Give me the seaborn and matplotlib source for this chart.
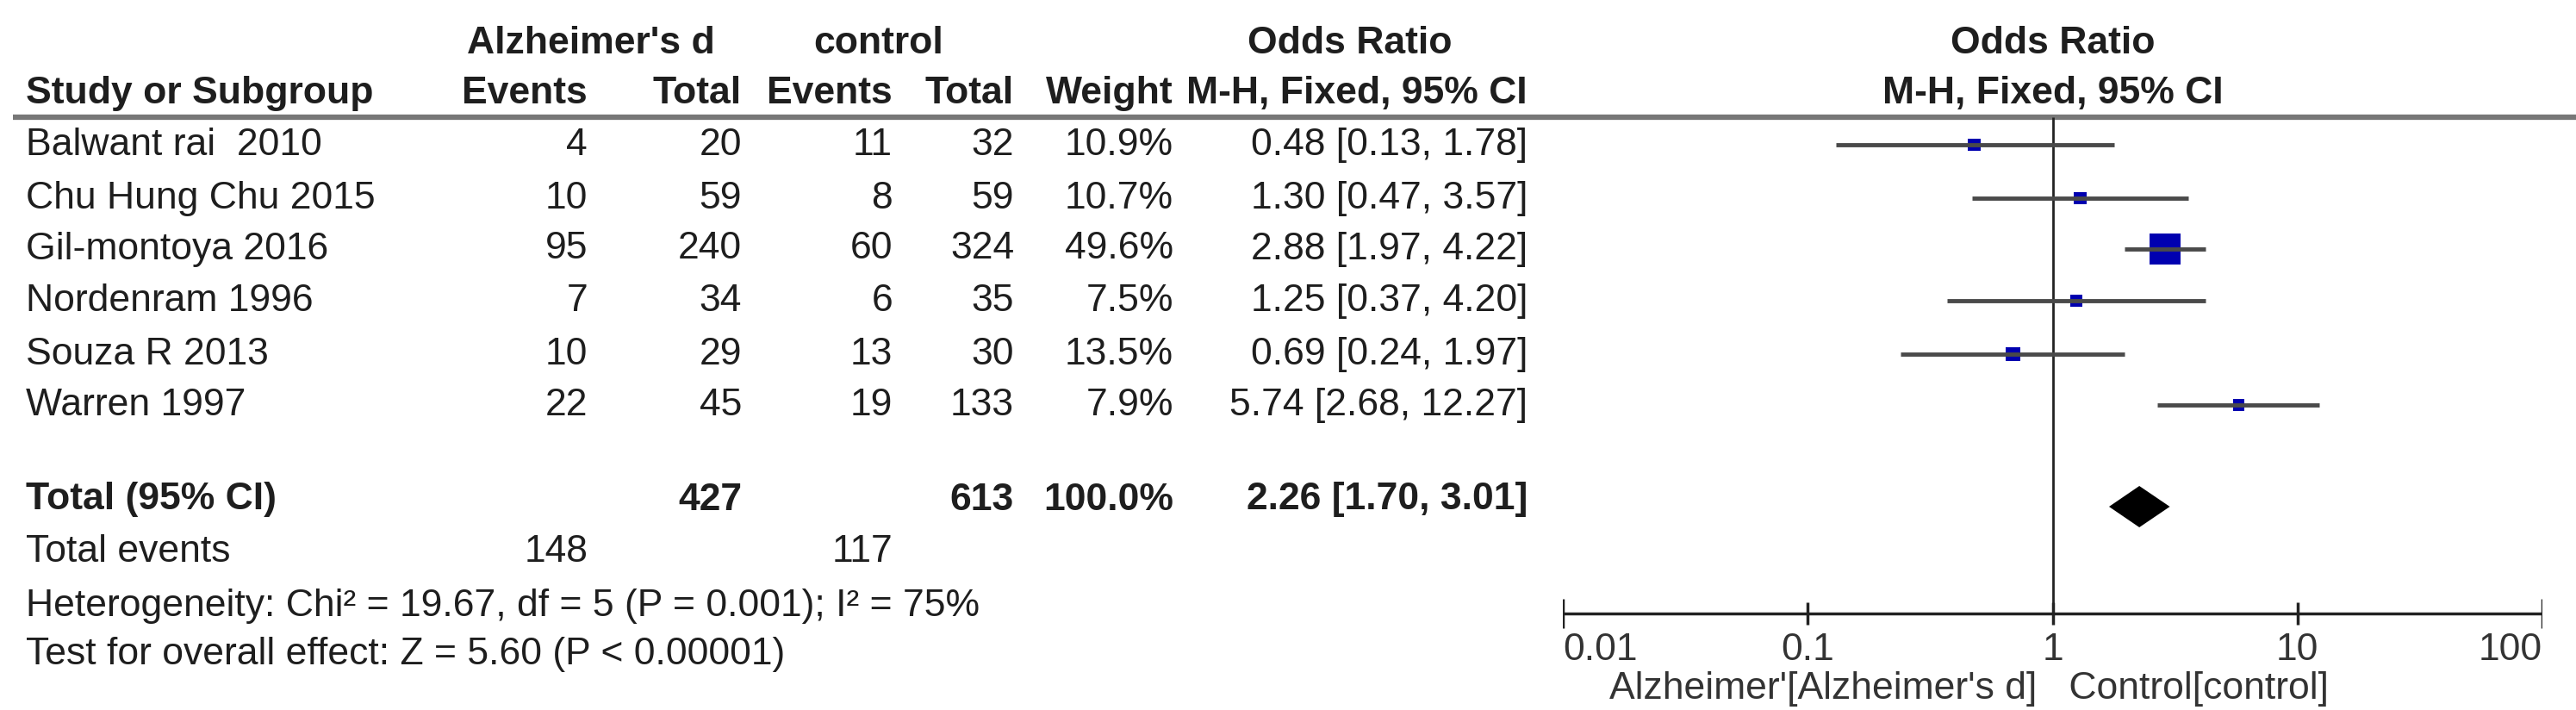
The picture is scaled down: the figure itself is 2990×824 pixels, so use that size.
import matplotlib
matplotlib.use("Agg")
import matplotlib.pyplot as plt
import seaborn as sns
import numpy as np
import pandas as pd

studies = ["Balwant rai  2010", "Chu Hung Chu 2015", "Gil-montoya 2016",
           "Nordenram 1996", "Souza R 2013", "Warren 1997"]
ad_events = [4, 10, 95, 7, 10, 22]
ad_total = [20, 59, 240, 34, 29, 45]
ctl_events = [11, 8, 60, 6, 13, 19]
ctl_total = [32, 59, 324, 35, 30, 133]
weights = [10.9, 10.7, 49.6, 7.5, 13.5, 7.9]
odds = [0.48, 1.30, 2.88, 1.25, 0.69, 5.74]
ci_low = [0.13, 0.47, 1.97, 0.37, 0.24, 2.68]
ci_high = [1.78, 3.57, 4.22, 4.20, 1.97, 12.27]
total_or, total_low, total_high = 2.26, 1.70, 3.01
total_ad, total_ctl = 427, 613
events_ad_sum, events_ctl_sum = 148, 117
tick_vals = [0.01, 0.1, 1, 10, 100]
tick_labels = ["0.01", "0.1", "1", "10", "100"]

sns.set_theme(style="white")
plt.rcParams['font.family'] = ['Liberation Sans', 'DejaVu Sans']

W, H = 2990, 824
fig = plt.figure(figsize=(W / 100, H / 100), dpi=100)
tax = fig.add_axes([0, 0, 1, 1])
tax.set_xlim(0, W); tax.set_ylim(H, 0); tax.axis("off")

FS = 32
TC = "#1e1e1e"
row_y = [168, 230, 289, 349, 411, 470]
total_y, tev_y, het_y, test_y = 580, 640, 703, 760

tax.text(686, 50, "Alzheimer's d", ha="center", va="center", fontsize=FS, fontweight="bold", color=TC)
tax.text(1020, 50, "control", ha="center", va="center", fontsize=FS, fontweight="bold", color=TC)
tax.text(1567, 50, "Odds Ratio", ha="center", va="center", fontsize=FS, fontweight="bold", color=TC)
tax.text(30, 108, "Study or Subgroup", ha="left", va="center", fontsize=FS, fontweight="bold", color=TC)
cols = [682, 861, 1036, 1177, 1362, 1773]
for x, t in zip(cols, ["Events", "Total", "Events", "Total", "Weight", "M-H, Fixed, 95% CI"]):
    tax.text(x, 108, t, ha="right", va="center", fontsize=FS, fontweight="bold", color=TC)
tax.text(2383, 50, "Odds Ratio", ha="center", va="center", fontsize=FS, fontweight="bold", color=TC)
tax.text(2383, 108, "M-H, Fixed, 95% CI", ha="center", va="center", fontsize=FS, fontweight="bold", color=TC)
tax.plot([15, W], [136, 136], color="#777777", lw=4.5, solid_capstyle="butt")

for i, y in enumerate(row_y):
    tax.text(30, y, studies[i], ha="left", va="center", fontsize=FS, color=TC)
    vals = [str(ad_events[i]), str(ad_total[i]), str(ctl_events[i]), str(ctl_total[i]),
            f"{weights[i]:.1f}%", f"{odds[i]:.2f} [{ci_low[i]:.2f}, {ci_high[i]:.2f}]"]
    for x, t in zip(cols, vals):
        tax.text(x, y, t, ha="right", va="center", fontsize=FS, color=TC)

tax.text(30, total_y, "Total (95% CI)", ha="left", va="center", fontsize=FS, fontweight="bold", color=TC)
for x, t in zip([861, 1177, 1362, 1773], [str(total_ad), str(total_ctl), "100.0%",
                                          f"{total_or:.2f} [{total_low:.2f}, {total_high:.2f}]"]):
    tax.text(x, total_y, t, ha="right", va="center", fontsize=FS, fontweight="bold", color=TC)
tax.text(30, tev_y, "Total events", ha="left", va="center", fontsize=FS, color=TC)
tax.text(682, tev_y, str(events_ad_sum), ha="right", va="center", fontsize=FS, color=TC)
tax.text(1036, tev_y, str(events_ctl_sum), ha="right", va="center", fontsize=FS, color=TC)
tax.text(30, het_y, "Heterogeneity: Chi² = 19.67, df = 5 (P = 0.001); I² = 75%", ha="left", va="center", fontsize=FS, color=TC)
tax.text(30, test_y, "Test for overall effect: Z = 5.60 (P < 0.00001)", ha="left", va="center", fontsize=FS, color=TC)

x0, x1 = 1814, 2951
fax = fig.add_axes([x0 / W, 0, (x1 - x0) / W, 1])
fax.set_xscale("log")
fax.set_xlim(0.01, 100)
fax.set_ylim(H, 0)
fax.axis("off")
fax.patch.set_alpha(0)

axis_y = 712
fax.vlines(1, 136, axis_y, color="#222222", lw=2)
fax.hlines(row_y, ci_low, ci_high, color="#4a4a4a", lw=3.5)
df = pd.DataFrame({"OR": odds, "y": row_y, "w": weights})
sides = [(9 + 0.55 * w) * 0.72 for w in weights]
df["s"] = [s ** 2 for s in sides]
sns.scatterplot(data=df, x="OR", y="y", size="s", sizes=(min(df["s"]), max(df["s"])),
                marker="s", color="#0000b0", edgecolor="#0000b0", linewidth=0, legend=False, ax=fax)
fax.fill([total_low, total_or, total_high, total_or],
         [total_y + 8, total_y + 8 - 24, total_y + 8, total_y + 8 + 24], color="black", lw=0)

fax.hlines(axis_y, 0.01, 100, color="#222222", lw=2.5)
for v, lab in zip(tick_vals, tick_labels):
    big = v in (0.01, 100)
    fax.vlines(v, axis_y - (17 if big else 13), axis_y + (17 if big else 13), color="#222222", lw=2.5)
    ha = "left" if v == 0.01 else ("right" if v == 100 else "center")
    fax.text(v, axis_y + 42, lab, ha=ha, va="center", fontsize=FS, color="#333333")
fax.text(0.0155, 800, "Alzheimer'[Alzheimer's d]   Control[control]", ha="left", va="center",
         fontsize=FS, color="#333333")

fig.savefig("out.png", dpi=100)
